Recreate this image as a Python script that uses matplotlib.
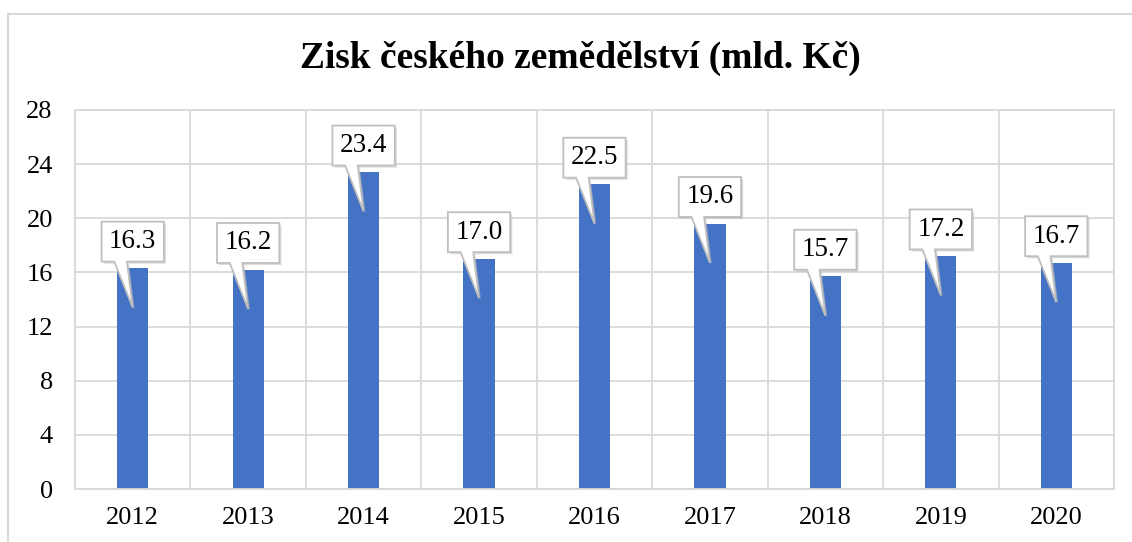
import matplotlib
matplotlib.use("Agg")
import matplotlib.pyplot as plt
from matplotlib.patches import Polygon, Rectangle
import matplotlib.patheffects as pe

years = ["2012", "2013", "2014", "2015", "2016", "2017", "2018", "2019", "2020"]
values = [16.3, 16.2, 23.4, 17.0, 22.5, 19.6, 15.7, 17.2, 16.7]
yticks = [0, 4, 8, 12, 16, 20, 24, 28]
title = "Zisk českého zemědělství (mld. Kč)"

plt.rcParams['font.family'] = ['Liberation Serif', 'DejaVu Serif']

fig = plt.figure(figsize=(11.32, 5.42), dpi=100)
W, H = 1132, 542
ax = fig.add_axes([75 / W, 1 - 489 / H, (1114 - 75) / W, (489 - 110) / H])

grid_c = "#d9d9d9"
x = list(range(len(years)))
ax.bar(x, values, width=0.27, color="#4472C4", zorder=2)

ax.set_xlim(-0.5, len(years) - 0.5)
ax.set_ylim(0, 28)
ax.set_yticks(yticks)
ax.set_yticklabels([str(t) for t in yticks])
ax.set_xticks(x)
ax.set_xticklabels(years)
ax.set_xticks([i - 0.5 for i in range(len(years) + 1)], minor=True)
ax.tick_params(axis='both', which='both', length=0, labelsize=19)
ax.tick_params(axis='y', pad=16)
ax.tick_params(axis='x', pad=13)
ax.grid(axis='y', which='major', color=grid_c, lw=1.3, zorder=0)
ax.grid(axis='x', which='minor', color=grid_c, lw=1.3, zorder=0)
for s in ax.spines.values():
    s.set_color(grid_c)
    s.set_linewidth(1.3)

# callouts
hw = 0.27
for c, v in zip(x, values):
    b = v + 0.5
    t = v + 3.45
    pts = [(c - hw, b), (c - 0.16, b), (c, v - 2.9), (c - 0.05, b),
           (c + hw, b), (c + hw, t), (c - hw, t)]
    poly = Polygon(pts, closed=True, facecolor="white", edgecolor="#bfbfbf",
                   lw=1.3, zorder=4)
    poly.set_path_effects([pe.SimplePatchShadow(offset=(1.5, -1.5), shadow_rgbFace="#bbbbbb", alpha=0.5),
                           pe.Normal()])
    ax.add_patch(poly)
    ax.text(c, (b + t) / 2, f"{v:.1f}", ha="center", va="center",
            fontsize=19.5, zorder=5)

fig.text(580 / W, 1 - 58 / H, title, ha="center", va="center",
         fontsize=27, fontweight="bold")

# outer chart border
fig.patches.append(Rectangle((8 / W, -0.1), 1.2, (1 - 14 / H) + 0.1,
                             transform=fig.transFigure, fill=False,
                             edgecolor=grid_c, lw=1.5))

fig.savefig("out.png", dpi=100)
